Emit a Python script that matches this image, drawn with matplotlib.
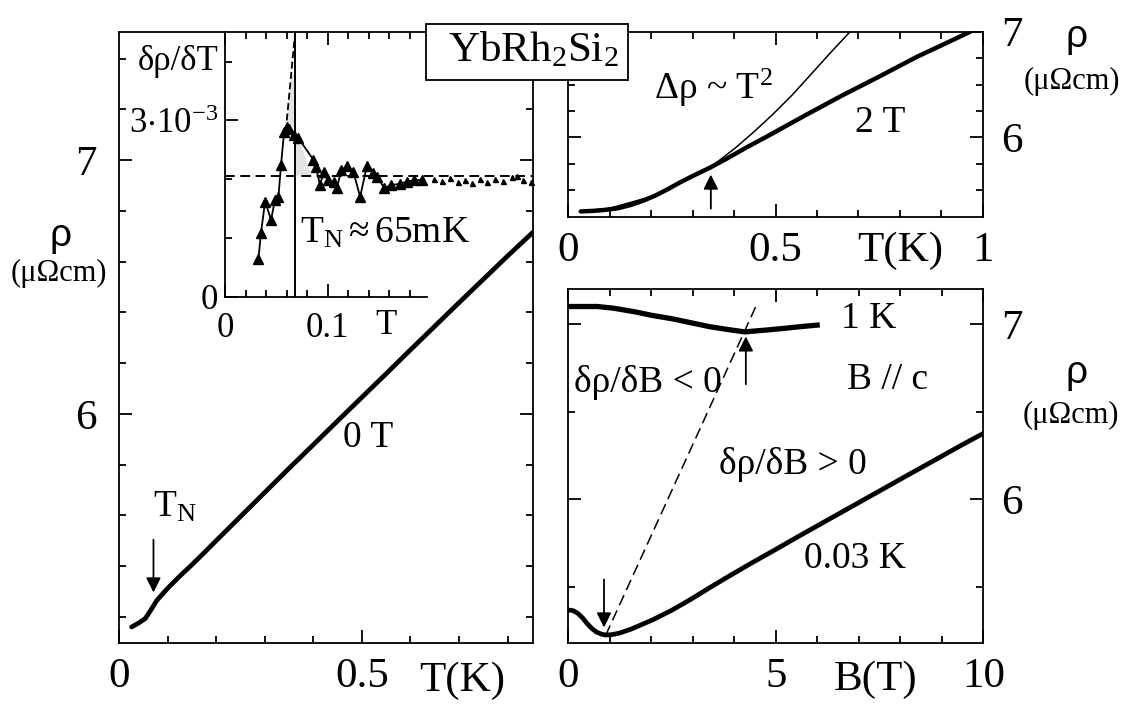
import matplotlib
matplotlib.use('Agg')
import matplotlib.pyplot as plt
from matplotlib.patches import Rectangle

plt.rcParams['font.family'] = ['Liberation Serif', 'DejaVu Serif']
plt.rcParams['mathtext.fontset'] = 'custom'
plt.rcParams['mathtext.rm'] = 'Liberation Serif'
plt.rcParams['mathtext.it'] = 'Liberation Serif:italic'
plt.rcParams['mathtext.default'] = 'regular'
plt.rcParams['lines.scale_dashes'] = False

W, H = 1129, 709

# ---- main panel: rho(T) at 0 T ----
t_0T = [0.026, 0.040, 0.054, 0.065, 0.078, 0.10, 0.125, 0.15, 0.175, 0.20, 0.25, 0.30,
        0.35, 0.40, 0.45, 0.50, 0.55, 0.60, 0.65, 0.70, 0.75, 0.80, 0.852]
rho_0T = [5.160, 5.175, 5.193, 5.225, 5.265, 5.312, 5.360, 5.405, 5.452, 5.500, 5.595, 5.690,
          5.785, 5.878, 5.972, 6.065, 6.158, 6.252, 6.345, 6.438, 6.530, 6.622, 6.715]

# ---- inset: drho/dT (units of 1e-3) ----
t_in = [0.0325, 0.035, 0.039, 0.0448, 0.0487, 0.052, 0.0545, 0.0575, 0.0600, 0.0625, 0.0670,
        0.0714, 0.0860, 0.0885, 0.0925, 0.0960, 0.1000, 0.1060, 0.1090, 0.1130, 0.1185, 0.1250,
        0.1315, 0.1380, 0.1445, 0.1480, 0.1550, 0.1620, 0.1700, 0.1770, 0.1840, 0.1915]
drho_in = [0.64, 1.08, 1.62, 1.31, 1.65, 1.70, 2.24, 2.80, 2.88, 2.86, 2.76,
           2.70, 2.33, 2.20, 1.90, 2.12, 1.98, 1.95, 1.85, 2.15, 2.22, 2.12,
           1.70, 2.22, 2.10, 2.04, 1.85, 1.90, 1.92, 1.96, 1.98, 1.99]
t_tail = [0.203, 0.211, 0.219, 0.227, 0.234, 0.240, 0.248, 0.255, 0.263, 0.271, 0.279, 0.284, 0.290, 0.298]
drho_tail = [2.00, 1.97, 2.02, 1.95, 1.99, 1.94, 2.01, 1.96, 2.00, 1.97, 2.04, 2.05, 1.98, 1.95]
level_in = 2.06          # dashed background level
t_N = 0.068              # vertical line at T_N
steep_t = [0.0601, 0.0683]
steep_v = [3.00, 4.51]
shade_t = [0.0645, 0.0601, 0.0682, 0.0730, 0.0850, 0.0682, 0.0682]
shade_v = [3.78, 3.01, 2.85, 2.60, 2.06, 2.06, 3.78]

# ---- top right: rho(T) at 2 T and T^2 fit ----
t_2T = [0.03, 0.06, 0.09, 0.12, 0.15, 0.18, 0.21, 0.24, 0.27, 0.30, 0.34, 0.385, 0.43, 0.48,
        0.57, 0.66, 0.75, 0.84, 0.90, 0.97]
rho_2T = [5.300, 5.305, 5.315, 5.330, 5.360, 5.400, 5.450, 5.510, 5.575, 5.635, 5.710, 5.805,
          5.905, 6.010, 6.205, 6.395, 6.575, 6.760, 6.870, 7.000]
t_sq = [0.03, 0.10, 0.20, 0.30, 0.344, 0.403, 0.45, 0.494, 0.54, 0.584, 0.63, 0.68]
rho_sq = [5.30, 5.33, 5.44, 5.625, 5.72, 5.90, 6.06, 6.22, 6.40, 6.59, 6.79, 7.00]

# ---- bottom right: rho(B) ----
b_1K = [0.0, 0.35, 0.7, 1.1, 1.6, 2.0, 2.5, 3.0, 3.4, 3.8, 4.25, 4.75, 5.2, 5.6, 6.06]
rho_1K = [7.10, 7.10, 7.10, 7.09, 7.07, 7.05, 7.03, 7.005, 6.985, 6.97, 6.955, 6.965, 6.975, 6.985, 6.995]
b_003K = [0.0, 0.12, 0.23, 0.35, 0.45, 0.57, 0.68, 0.80, 0.90, 1.05, 1.22, 1.5, 2.03, 2.5, 2.94,
          3.4, 3.85, 4.4, 5.0, 5.5, 6.1, 6.8, 7.47, 8.1, 8.82, 9.4, 10.0]
rho_003K = [5.366, 5.362, 5.347, 5.32, 5.29, 5.26, 5.24, 5.228, 5.223, 5.225, 5.233, 5.255, 5.309,
            5.365, 5.425, 5.492, 5.556, 5.632, 5.712, 5.780, 5.860, 5.953, 6.042, 6.126, 6.221, 6.298, 6.375]
guide_b = [0.9, 4.52]
guide_rho = [5.22, 7.10]

TICK = 31
LBL = 27


def rect(l, t, r, b):
    # pixel box -> figure fraction
    return [l / W, 1 - b / H, (r - l) / W, (b - t) / H]


def ftext(x, y, s, **kw):
    kw.setdefault('ha', 'center')
    kw.setdefault('va', 'center')
    return fig.text(x / W, 1 - y / H, s, **kw)


def style(ax, lw=1.3):
    for sp in ax.spines.values():
        sp.set_linewidth(lw)
    ax.tick_params(which='both', direction='in', width=1.3)
    ax.tick_params(which='major', length=9.5)
    ax.tick_params(which='minor', length=5)


fig = plt.figure(figsize=(W / 100, H / 100), dpi=100)

# main panel
ax = fig.add_axes(rect(119, 31.7, 533.3, 642.7))
ax.plot(t_0T, rho_0T, color='black', lw=3.4, solid_capstyle='round')
ax.set_xlim(0, 0.853)
ax.set_ylim(5.098, 7.506)
ax.set_xticks([0, 0.5])
ax.set_xticklabels(['0', '0.5'])
ax.set_xticks([0.1, 0.2, 0.3, 0.4, 0.6, 0.7, 0.8], minor=True)
ax.set_yticks([6, 7])
ax.set_yticklabels(['6', '7'])
ax.set_yticks([5.2, 5.4, 5.6, 5.8, 6.2, 6.4, 6.6, 6.8, 7.2, 7.4], minor=True)
style(ax)
ax.tick_params(which='both', top=False, right=True, labelsize=TICK)
ax.tick_params(axis='x', pad=11)
ax.tick_params(axis='y', pad=16)
ax.annotate('', xy=(0.071, 5.285), xytext=(0.071, 5.515),
            arrowprops=dict(arrowstyle='-|>', color='black', lw=1.3, mutation_scale=22))
ax.text(0.069, 5.63, r'T$_\mathrm{N}$', fontsize=LBL, ha='left', va='center')
ax.text(0.512, 5.905, '0 T', fontsize=LBL, ha='center', va='center')
ftext(461.7, 681, 'T(K)', fontsize=TICK)
ftext(60.7, 236, 'ρ', fontsize=28, family='Liberation Sans')
ftext(59, 273, '(μΩcm)', fontsize=22)

# inset
ai = fig.add_axes(rect(225, 31.7, 533.3, 296.7))
ai.patch.set_visible(False)
ai.fill(shade_t, shade_v, color='#e3e3e3', lw=0, zorder=1)
ai.axhline(level_in, color='black', lw=1.4, dashes=(7, 4), zorder=2)
ai.axvline(t_N, color='black', lw=1.4, zorder=2)
ai.plot(steep_t, steep_v, color='black', lw=1.3, dashes=(5, 2.5), zorder=2)
ai.plot(t_in, drho_in, color='black', lw=1.3, marker='^', ms=7, zorder=3, clip_on=False)
ai.plot(t_tail, drho_tail, ls='none', color='black', marker='^', ms=3.6, zorder=3, clip_on=False)
ai.set_xlim(0, 0.3)
ai.set_ylim(0, 4.51)
ai.spines['top'].set_visible(False)
ai.spines['right'].set_visible(False)
ai.spines['bottom'].set_bounds(0, 0.197)
ai.set_xticks([0, 0.1])
ai.set_xticklabels(['0', '0.1'])
ai.set_xticks([0.02, 0.04, 0.06, 0.08, 0.12, 0.14, 0.16, 0.18], minor=True)
ai.set_yticks([0, 3])
ai.set_yticklabels(['0', r'3$\cdot$10$^{-3}$'])
ai.set_yticks([1, 2, 4], minor=True)
style(ai)
ai.tick_params(which='both', top=True, right=False, labelsize=25)
ai.tick_params(axis='x', pad=11)
ai.tick_params(axis='y', pad=5)
ftext(385.7, 326, 'T', fontsize=25)
ftext(178, 62, 'δρ/δT', fontsize=25)
ai.text(0.156, 1.08, r'T$_\mathrm{N}$$\approx$65mK', fontsize=27, ha='center', va='center')

# top right panel
at = fig.add_axes(rect(568.3, 31.7, 982.7, 216.7))
at.plot(t_sq, rho_sq, color='black', lw=1.1)
at.plot(t_2T, rho_2T, color='black', lw=3.2, solid_capstyle='round')
at.set_xlim(0, 1)
at.set_ylim(5.25, 7.0)
at.set_xticks([0, 0.5, 1])
at.set_xticklabels(['0', '0.5', '1'])
at.set_xticks([0.1, 0.2, 0.3, 0.4, 0.6, 0.7, 0.8, 0.9], minor=True)
at.set_yticks([6, 7])
at.set_yticklabels(['6', '7'])
at.set_yticks([5.5, 5.75, 6.25, 6.5, 6.75], minor=True)
style(at)
at.tick_params(which='both', top=True, right=True, labelleft=False, labelright=True, labelsize=TICK)
at.tick_params(axis='x', pad=11)
at.tick_params(axis='y', pad=13)
at.annotate('', xy=(0.344, 5.675), xytext=(0.344, 5.30),
            arrowprops=dict(arrowstyle='-|>', color='black', lw=1.3, mutation_scale=22))
at.text(0.351, 6.47, r'Δρ ~ T$^2$', fontsize=LBL, ha='center', va='center')
at.text(0.752, 6.14, '2 T', fontsize=LBL, ha='center', va='center')
ftext(899.7, 251, 'T(K)', fontsize=TICK)
ftext(1076.7, 36.7, 'ρ', fontsize=28, family='Liberation Sans')
ftext(1072, 81.7, '(μΩcm)', fontsize=22)

# bottom right panel
ab = fig.add_axes(rect(568.2, 289, 983.3, 642.7))
ab.plot(guide_b, guide_rho, color='black', lw=1.1, dashes=(8, 4))
ab.plot(b_1K, rho_1K, color='black', lw=3.8, solid_capstyle='butt')
ab.plot(b_003K, rho_003K, color='black', lw=3.4, solid_capstyle='butt')
ab.set_xlim(0, 10)
ab.set_ylim(5.179, 7.2)
ab.set_xticks([0, 5, 10])
ab.set_xticklabels(['0', '5', '10'])
ab.set_xticks([1, 2, 3, 4, 6, 7, 8, 9], minor=True)
ab.set_yticks([6, 7])
ab.set_yticklabels(['6', '7'])
ab.set_yticks([5.5, 6.5], minor=True)
style(ab)
ab.tick_params(which='both', top=True, right=True, labelleft=False, labelright=True, labelsize=TICK)
ab.tick_params(axis='x', pad=11)
ab.tick_params(axis='y', pad=13)
ab.annotate('', xy=(0.862, 5.25), xytext=(0.862, 5.556),
            arrowprops=dict(arrowstyle='-|>', color='black', lw=1.3, mutation_scale=22))
ab.annotate('', xy=(4.28, 6.945), xytext=(4.28, 6.64),
            arrowprops=dict(arrowstyle='-|>', color='black', lw=1.3, mutation_scale=22))
ab.text(7.24, 7.03, '1 K', fontsize=LBL, ha='center', va='center')
ab.text(7.69, 6.68, 'B // c', fontsize=LBL, ha='center', va='center')
ab.text(1.92, 6.665, 'δρ/δB < 0', fontsize=LBL, ha='center', va='center')
ab.text(5.41, 6.20, 'δρ/δB > 0', fontsize=LBL, ha='center', va='center')
ab.text(6.90, 5.657, '0.03 K', fontsize=LBL, ha='center', va='center')
ftext(876, 680, 'B(T)', fontsize=TICK)
ftext(1076.7, 373.3, 'ρ', fontsize=28, family='Liberation Sans')
ftext(1071, 415, '(μΩcm)', fontsize=22)

# compound label box
fig.add_artist(Rectangle((425.7 / W, 1 - 80 / H), (628.3 - 425.7) / W, (80 - 24) / H,
                         transform=fig.transFigure, facecolor='white', edgecolor='black',
                         lw=1.3, zorder=5))
ftext(533.3, 50, r'YbRh$_2$Si$_2$', fontsize=31, zorder=6)

fig.savefig('out.png', dpi=100)
